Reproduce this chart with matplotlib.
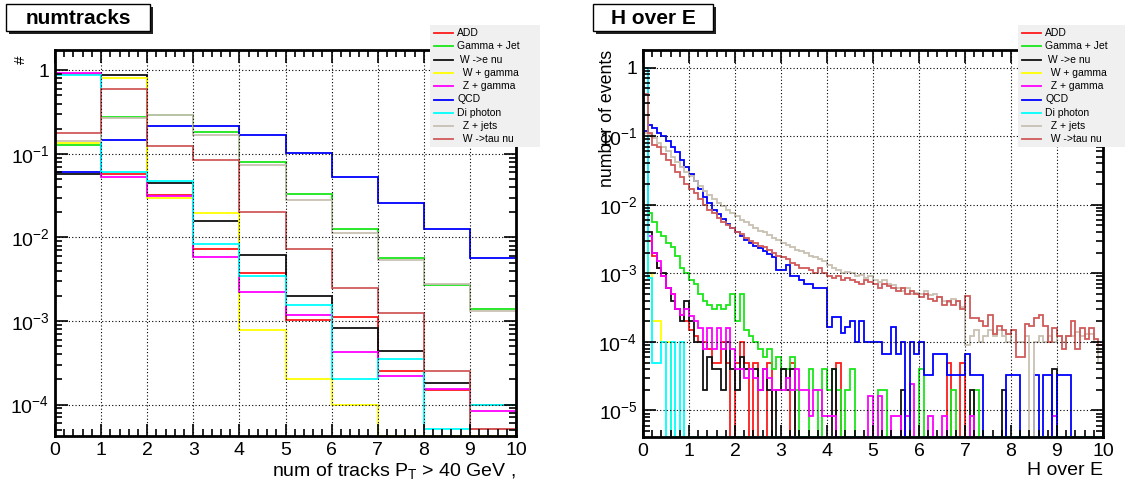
import numpy as np
import matplotlib.pyplot as plt
from matplotlib.ticker import MultipleLocator, LogLocator, FuncFormatter, NullFormatter
from matplotlib.patches import Rectangle
from matplotlib.lines import Line2D

plt.rcParams['font.family'] = ['Liberation Sans', 'DejaVu Sans']
plt.rcParams['mathtext.fontset'] = 'custom'
plt.rcParams['mathtext.rm'] = 'Liberation Sans'
plt.rcParams['mathtext.it'] = 'Liberation Sans:italic'
plt.rcParams['mathtext.default'] = 'regular'

W, H = 1125, 483

samples = ["ADD", "Gamma + Jet", " W ->e nu", "  W + gamma", "  Z + gamma",
           "QCD", "Di photon", "  Z + jets", "  W ->tau nu"]
colors = ['#ff1a1a', '#19e619', '#111111', '#ffff00', '#ff00ff',
          '#0000ff', '#00ffff', '#c8c0b2', '#d05a5a']

# ---- numtracks (10 bins, 0..10) ----
ntrk_edges = np.arange(0, 11)
ntrk_add = [0.90, 0.058, 0.032, 0.0072, 0.0037, 0.00102, 0.00112, 0.00025, 0.00015, 5.1e-5]
ntrk_gjet = [0.126, 0.276, 0.29, 0.183, 0.081, 0.0334, 0.0125, 0.0056, 0.0027, 0.0014]
ntrk_wenu = [0.057, 0.88, 0.045, 0.0156, 0.0061, 0.0020, 0.00083, 0.00044, 0.00018, 1.0e-4]
ntrk_wgam = [0.135, 0.82, 0.030, 0.0195, 0.00079, 0.0002, 1.0e-4, 0, 0, 0]
ntrk_zgam = [0.92, 0.053, 0.031, 0.0059, 0.0022, 0.00117, 0.00042, 0.00022, 0.000155, 8.3e-5]
ntrk_qcd = [0.06, 0.148, 0.215, 0.215, 0.166, 0.103, 0.053, 0.026, 0.0127, 0.0057]
ntrk_diph = [0.88, 0.061, 0.047, 0.0083, 0.0035, 0.00156, 0.0002, 0.00035, 5.1e-5, 1.0e-4]
ntrk_zjet = [0.143, 0.27, 0.29, 0.17, 0.074, 0.0279, 0.0114, 0.0053, 0.0028, 0.0013]
ntrk_wtau = [0.18, 0.59, 0.124, 0.084, 0.020, 0.0072, 0.00246, 0.00126, 0.00025, 5.1e-5]

# ---- H over E (100 bins, 0..10) ----
hoe_edges = np.linspace(0, 10, 101)
hoe_add = [0.98, 0.003, 0.0018, 0.0012, 0.0009, 0.0006, 0.0005, 0.0003, 0.00025, 0.0002,
           0.00015, 0.00012, 0.0001, 0.0001, 0.00008, 0.00005, 0.00005, 0.0001, 0.00005, 0.0,
           0.00005, 0.0001, 0.00005, 0.0, 0.00005, 0.0, 0.0, 0.00005, 0.0, 0.0,
           0.0, 0.0, 0.00005, 0.0, 0.0, 0.0, 0.0, 0.0, 0.0, 0.0,
           0.0, 0.0, 0.00005, 0.0, 0.0, 0.0, 0.0, 0.0, 0.0, 0.0,
           0.0, 0.0, 0.0, 0.0, 0.0, 0.0, 0.0, 0.0, 0.0, 0.0,
           0.0, 0.0, 0.0, 0.0, 0.0, 0.0, 0.00005, 0.0, 0.0, 0.00005,
           0.0, 0.0, 0.0, 0.0, 0.0, 0.0, 0.0, 0.0, 0.0, 0.0,
           0.0, 0.0, 0.0, 0.0, 0.0, 0.0, 0.0, 0.0, 0.0, 0.0,
           0.0, 0.0, 0.0, 0.0, 0.0, 0.0, 0.0, 0.0, 0.0, 0.0]
hoe_gjet = [0.98, 0.0076, 0.0055, 0.004, 0.0035, 0.0028, 0.0024, 0.0018, 0.0012, 0.0010,
            0.0008, 0.0007, 0.0005, 0.0004, 0.00035, 0.0003, 0.00035, 0.0003, 0.00035, 0.0005,
            0.0002, 0.0005, 0.00015, 0.00012, 0.0001, 0.00008, 0.00006, 0.00008, 0.00004, 0.00006,
            0.00004, 0.00004, 0.00006, 0.00002, 0.0, 0.0, 0.00004, 0.00002, 0.0, 0.00004,
            0.00002, 0.00004, 0.00002, 0.0, 0.00002, 0.00004, 0.0, 0.0, 0.0, 0.0,
            0.0, 0.00002, 0.00002, 0.0, 0.0, 0.0, 0.0, 0.0, 0.0, 0.0,
            0.00004, 0.0, 0.0, 0.0, 0.0, 0.0, 0.0, 0.00002, 0.0, 0.0,
            0.0, 0.0, 0.00002, 0.0, 0.0, 0.0, 0.0, 0.0, 0.0, 0.0,
            0.0, 0.0, 0.0, 0.0, 0.0, 0.0, 0.0, 0.0, 0.0, 0.0,
            0.0, 0.0, 0.0, 0.0, 0.0, 0.0, 0.0, 0.0, 0.0, 0.0]
hoe_wenu = [0.98, 0.004, 0.002, 0.0012, 0.001, 0.0006, 0.0004, 0.0003, 0.0002, 0.0004,
            0.0002, 0.0001, 0.0001, 0.00002, 0.00006, 0.00004, 0.00004, 0.00002, 0.0001, 0.00004,
            0.00002, 0.00006, 0.00004, 0.00004, 0.00004, 0.00002, 0.00004, 0.00002, 0.0, 0.00002,
            0.00004, 0.00002, 0.00004, 0.0, 0.0, 0.0, 0.0, 0.0, 0.0, 0.0,
            0.0, 0.00004, 0.0, 0.0, 0.0, 0.0, 0.0, 0.0, 0.0, 0.0,
            0.0, 0.0, 0.0, 0.0, 0.0, 0.0, 0.00002, 0.0, 0.0, 0.0,
            0.0, 0.0, 0.0, 0.0, 0.0, 0.0, 0.0, 0.0, 0.0, 0.0,
            0.0, 0.00002, 0.0, 0.0, 0.0, 0.0, 0.0, 0.0, 0.00002, 0.0,
            0.0, 0.0, 0.0, 0.0, 0.0, 0.0, 0.0, 0.0, 0.0, 0.00004,
            0.0, 0.0, 0.0, 0.0, 0.0, 0.0, 0.0, 0.0, 0.0, 0.0]
hoe_wgam = [0.99, 0.001, 0.0002, 0.0002, 0.0001, 0.0001, 0.0, 0.0, 0.0, 0.0,
            0.0, 0.0, 0.0, 0.0, 0.0, 0.0, 0.0, 0.0, 0.0, 0.0,
            0.0, 0.0, 0.0, 0.0, 0.0, 0.0, 0.0, 0.0, 0.0, 0.0,
            0.0, 0.0, 0.0, 0.0, 0.0, 0.0, 0.0, 0.0, 0.0, 0.0,
            0.0, 0.0, 0.0, 0.0, 0.0, 0.0, 0.0, 0.0, 0.0, 0.0,
            0.0, 0.0, 0.0, 0.0, 0.0, 0.0, 0.0, 0.0, 0.0, 0.0,
            0.0, 0.0, 0.0, 0.0, 0.0, 0.0, 0.0, 0.0, 0.0, 0.0,
            0.0, 0.0, 0.0, 0.0, 0.0, 0.0, 0.0, 0.0, 0.0, 0.0,
            0.0, 0.0, 0.0, 0.0, 0.0, 0.0, 0.0, 0.0, 0.0, 0.0,
            0.0, 0.0, 0.0, 0.0, 0.0, 0.0, 0.0, 0.0, 0.0, 0.0]
hoe_zgam = [0.98, 0.0035, 0.002, 0.0015, 0.0009, 0.0006, 0.0005, 0.0003, 0.00025, 0.0003,
            0.00024, 0.0002, 0.00016, 0.00008, 0.00016, 0.00008, 0.00016, 0.00008, 0.00016, 0.00008,
            0.00004, 0.00004, 0.00003, 0.00004, 0.00003, 0.00002, 0.00004, 0.00003, 0.00002, 0.00002,
            0.00002, 0.00003, 0.00002, 0.00004, 0.00002, 0.00002, 0.0000083, 0.00002, 0.00002, 0.0000083,
            0.0000083, 0.0000083, 0.0, 0.0, 0.0, 0.0, 0.0, 0.0, 0.0, 0.000016,
            0.0, 0.000016, 0.0, 0.0, 0.0000083, 0.0000083, 0.0, 0.0000083, 0.000024, 0.0,
            0.0, 0.0, 0.0000083, 0.0, 0.0, 0.0000083, 0.0, 0.0, 0.0, 0.0,
            0.0, 0.0000083, 0.0, 0.0, 0.0, 0.0, 0.0, 0.0, 0.0, 0.0,
            0.0, 0.0, 0.0, 0.0, 0.0, 0.0, 0.0, 0.0, 0.0, 0.0000083,
            0.0, 0.0, 0.0, 0.0, 0.0, 0.0, 0.0, 0.0, 0.0, 0.0]
hoe_qcd = [0.12, 0.145, 0.13, 0.11, 0.1, 0.085, 0.07, 0.058, 0.045, 0.036,
           0.028, 0.022, 0.017, 0.013, 0.0105, 0.0085, 0.0072, 0.0062, 0.0053, 0.0046,
           0.004, 0.0035, 0.0031, 0.0028, 0.0025, 0.0023, 0.0021, 0.0019, 0.0017, 0.0011,
           0.0011, 0.0013, 0.0009, 0.0009, 0.0008, 0.0007, 0.0007, 0.0006, 0.0006, 0.0006,
           0.000167, 0.000233, 0.000233, 0.000133, 0.000167, 0.0002, 0.0001, 0.0002, 0.0001, 0.0001,
           0.0001, 0.0001, 0.000067, 0.000067, 0.000167, 0.000067, 0.0001, 0.0, 0.0001, 0.000067,
           0.0001, 0.000033, 0.000033, 0.000067, 0.000067, 0.000067, 0.000033, 0.000033, 0.000033, 0.000033,
           0.000067, 0.000033, 0.000033, 0.000033, 0.0, 0.0, 0.0, 0.0, 0.0, 0.000033,
           0.000033, 0.000033, 0.0, 0.0, 0.0, 0.000033, 0.0, 0.000033, 0.000033, 0.0,
           0.000033, 0.000033, 0.000033, 0.0, 0.0, 0.0, 0.0, 0.0, 0.0, 0.0]
hoe_diph = [1.0, 0.00085, 0.00005, 0.00005, 0.0001, 0.0, 0.0001, 0.0, 0.0001, 0.0,
            0.0, 0.0, 0.0, 0.0, 0.0, 0.0, 0.0, 0.0, 0.0, 0.0,
            0.0, 0.0, 0.0, 0.0, 0.0, 0.0, 0.0, 0.0, 0.0, 0.0,
            0.0, 0.0, 0.0, 0.0, 0.0, 0.0, 0.0, 0.0, 0.0, 0.0,
            0.0, 0.0, 0.0, 0.0, 0.0, 0.0, 0.0, 0.0, 0.0, 0.0,
            0.0, 0.0, 0.0, 0.0, 0.0, 0.0, 0.0, 0.0, 0.0, 0.0,
            0.0, 0.0, 0.0, 0.0, 0.0, 0.0, 0.0, 0.0, 0.0, 0.0,
            0.0, 0.0, 0.0, 0.0, 0.0, 0.0, 0.0, 0.0, 0.0, 0.0,
            0.0, 0.0, 0.0, 0.0, 0.0, 0.0, 0.0, 0.0, 0.0, 0.0,
            0.0, 0.0, 0.0, 0.0, 0.0, 0.0, 0.0, 0.0, 0.0, 0.0]
hoe_zjet = [0.11, 0.105, 0.095, 0.08, 0.07, 0.06, 0.05, 0.042, 0.036, 0.03,
            0.026, 0.022, 0.019, 0.016, 0.014, 0.012, 0.0105, 0.0095, 0.0085, 0.0075,
            0.0068, 0.006, 0.0055, 0.005, 0.0046, 0.0042, 0.004, 0.0036, 0.0033, 0.0031,
            0.0028, 0.0026, 0.0024, 0.0022, 0.0021, 0.002, 0.0018, 0.0017, 0.0016, 0.0015,
            0.0013, 0.0012, 0.0011, 0.0010, 0.00105, 0.0010, 0.0009, 0.00095, 0.00085, 0.0009,
            0.0008, 0.00075, 0.0008, 0.0007, 0.00068, 0.0006, 0.00055, 0.0006, 0.0005, 0.00052,
            0.0005, 0.00055, 0.00048, 0.0005, 0.00045, 0.0004, 0.00038, 0.00042, 0.0004, 0.00032,
            0.00009, 0.00012, 0.00015, 0.0001, 0.00012, 0.00015, 0.00012, 0.00015, 0.00012, 0.0001,
            0.00015, 0.0001, 0.0001, 0.00012, 0.0, 0.0001, 0.00012, 0.0001, 0.00012, 0.0001,
            0.00012, 0.0001, 0.00012, 0.00012, 0.00014, 0.00012, 0.00013, 0.00013, 0.0001, 0.00005]
hoe_wtau = [0.41, 0.11, 0.075, 0.07, 0.055, 0.045, 0.038, 0.03, 0.025, 0.02,
            0.017, 0.015, 0.012, 0.01, 0.0085, 0.0075, 0.0065, 0.0055, 0.005, 0.0045,
            0.004, 0.0038, 0.0033, 0.003, 0.0028, 0.0025, 0.0024, 0.0022, 0.002, 0.0018,
            0.0017, 0.0016, 0.0014, 0.0013, 0.0012, 0.0012, 0.0011, 0.0010, 0.0012, 0.0010,
            0.0009, 0.00085, 0.0009, 0.0008, 0.00085, 0.0008, 0.00075, 0.0007, 0.0008, 0.00075,
            0.0007, 0.0006, 0.0007, 0.00065, 0.0006, 0.00055, 0.0006, 0.0005, 0.00055, 0.0005,
            0.00045, 0.0005, 0.00042, 0.0004, 0.00045, 0.00035, 0.0004, 0.00035, 0.0004, 0.0003,
            0.00046, 0.00022, 0.00022, 0.0002, 0.00017, 0.00025, 0.00013, 0.00017, 0.00015, 0.00013,
            0.00015, 0.00006, 0.00006, 0.00018, 0.00017, 0.00022, 0.00025, 0.00017, 0.0001, 0.00016,
            0.00012, 0.00008, 0.00012, 0.0002, 0.00008, 0.00016, 0.00011, 0.00016, 0.00011, 0.00009]

ntrk_all = [ntrk_add, ntrk_gjet, ntrk_wenu, ntrk_wgam, ntrk_zgam,
            ntrk_qcd, ntrk_diph, ntrk_zjet, ntrk_wtau]
hoe_all = [hoe_add, hoe_gjet, hoe_wenu, hoe_wgam, hoe_zgam,
           hoe_qcd, hoe_diph, hoe_zjet, hoe_wtau]


def px(x, y):
    return x / W, 1 - y / H


def log_label(v, pos):
    e = int(round(np.log10(v)))
    if e == 0:
        return '1'
    return r'$10^{%d}$' % e


def style_axes(ax, ymin, ymax):
    ax.set_yscale('log')
    ax.set_xlim(0, 10)
    ax.set_ylim(ymin, ymax)
    for s in ax.spines.values():
        s.set_linewidth(2)
    ax.xaxis.set_major_locator(MultipleLocator(1))
    ax.xaxis.set_minor_locator(MultipleLocator(0.2))
    ax.yaxis.set_major_locator(LogLocator(base=10, numticks=20))
    ax.yaxis.set_minor_locator(LogLocator(base=10, subs=np.arange(2, 10), numticks=20))
    ax.yaxis.set_major_formatter(FuncFormatter(log_label))
    ax.yaxis.set_minor_formatter(NullFormatter())
    ax.tick_params(which='both', direction='in', top=True, right=True,
                   width=1.2, labelsize=14, pad=4)
    ax.tick_params(which='major', length=9)
    ax.tick_params(which='minor', length=5)
    ax.grid(True, which='major', linestyle=(0, (1, 2)), color='black', linewidth=0.8)


def draw_hists(ax, edges, series, ymin):
    # empty bins sit on the lower frame edge, as in a log-scale histogram outline
    for vals, c in zip(series, colors):
        v = np.maximum(np.asarray(vals, dtype=float), ymin)
        ax.stairs(v, edges, baseline=None, color=c, linewidth=1.3)


def title_box(x0, y0, x1, y1, text):
    fig.patches.append(Rectangle(px(x0 + 3, y1 + 3), (x1 - x0) / W, (y1 - y0) / H,
                                 transform=fig.transFigure, facecolor='#222222',
                                 edgecolor='none', zorder=5))
    fig.patches.append(Rectangle(px(x0, y1), (x1 - x0) / W, (y1 - y0) / H,
                                 transform=fig.transFigure, facecolor='white',
                                 edgecolor='black', linewidth=1, zorder=6))
    fig.text(*px((x0 + x1) / 2, (y0 + y1) / 2 + 1), text, ha='center', va='center',
             fontsize=15, fontweight='bold', zorder=7)


def legend_box(x0, y0, x1, y1):
    fig.patches.append(Rectangle(px(x0, y1), (x1 - x0) / W, (y1 - y0) / H,
                                 transform=fig.transFigure, facecolor='#f0f0f0',
                                 edgecolor='none', zorder=8))
    for i, (lab, c) in enumerate(zip(samples, colors)):
        yy = y0 + 8 + 13.3 * i
        fig.lines.append(Line2D([(x0 + 4) / W, (x0 + 23) / W], [1 - yy / H] * 2,
                                transform=fig.transFigure, color=c, linewidth=1.3, zorder=9))
        fig.text(*px(x0 + 27, yy), lab, ha='left', va='center', fontsize=7.5, zorder=9)


fig = plt.figure(figsize=(W / 100, H / 100), dpi=100)

ax1 = fig.add_axes([55 / W, 1 - 436 / H, 461 / W, 386 / H])
style_axes(ax1, 4.2e-5, 1.75)
draw_hists(ax1, ntrk_edges, ntrk_all, 4.2e-5)
ax1.set_xlabel(r'num of tracks P$_{T}$ > 40 GeV ,', fontsize=14, loc='right', labelpad=2)
fig.text(*px(21, 60), '#', ha='center', va='center', fontsize=11, rotation=90)

ax2 = fig.add_axes([643 / W, 1 - 437 / H, 460 / W, 387 / H])
style_axes(ax2, 4.1e-6, 1.8)
draw_hists(ax2, hoe_edges, hoe_all, 4.1e-6)
ax2.set_xlabel('H over E', fontsize=14, loc='right', labelpad=2)
fig.text(*px(607, 50), 'number of events', ha='center', va='top',
         fontsize=12.8, rotation=90)

title_box(6, 4, 150, 31, 'numtracks')
title_box(593, 4, 713, 31, 'H over E')
legend_box(430, 25, 540, 147)
legend_box(1018, 25, 1125, 147)

fig.savefig('out.png', dpi=100)
